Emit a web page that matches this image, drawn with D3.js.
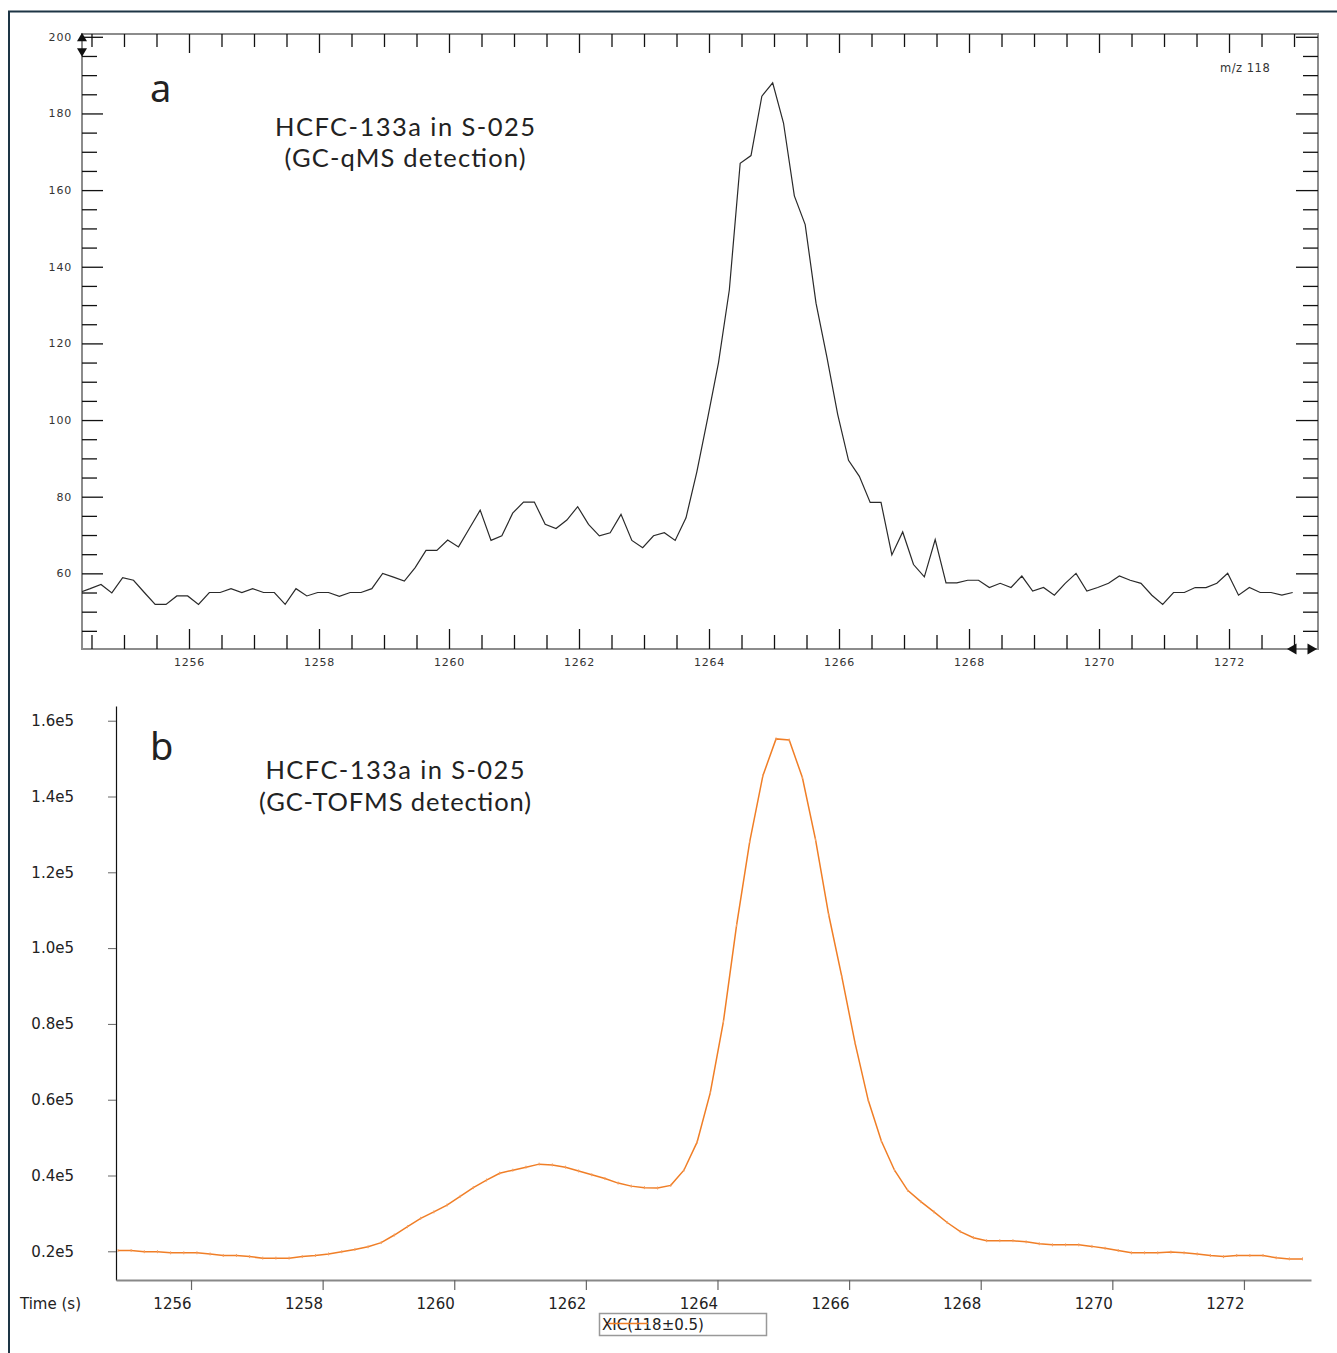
<!DOCTYPE html>
<html lang="en">
<head>
<meta charset="utf-8">
<script src="https://d3js.org/d3.v7.min.js"></script>
<style>
    body { margin: 0; background: #fff; }
    .ax-a text { font-family: "DejaVu Sans", sans-serif; font-size: 11px; letter-spacing: 0.8px; fill: #333; }
    .ax-b text { font-family: "DejaVu Sans", sans-serif; font-size: 15px; fill: #222; }
    .title { font-family: Lato, "Noto Sans", sans-serif; fill: #222; }
    .letter { font-family: "Noto Sans", sans-serif; fill: #222; }
</style>
</head>
<body>
<script>
// panel a : GC-qMS, m/z 118, one scan every 1/6 s
var qmsStart = 1254.313, qmsStep = 1 / 6;
var qmsCounts = [
    55.0, 56.0, 57.1, 54.9, 58.9, 58.2, 55.0, 51.9, 51.9, 54.1,
    54.1, 51.9, 55.0, 55.0, 56.0, 55.0, 56.0, 55.0, 55.0, 51.9,
    56.0, 54.1, 55.0, 55.0, 54.0, 55.0, 55.0, 56.0, 60.0, 59.0,
    58.0, 61.5, 66.0, 66.0, 68.7, 66.9, 71.7, 76.5, 68.6, 69.8,
    75.7, 78.6, 78.6, 72.8, 71.7, 73.9, 77.4, 72.8, 69.8, 70.6,
    75.4, 68.6, 66.7, 69.8, 70.6, 68.6, 74.5, 86.5, 100.5, 115.0,
    134.0, 167.0, 169.0, 184.5, 188.0, 177.5, 158.5, 151.0, 130.5, 116.5,
    101.5, 89.5, 85.3, 78.5, 78.5, 64.8, 70.8, 62.3, 59.1, 68.8,
    57.5, 57.5, 58.2, 58.2, 56.3, 57.4, 56.3, 59.3, 55.4, 56.3,
    54.3, 57.4, 60.0, 55.4, 56.3, 57.4, 59.3, 58.2, 57.4, 54.3,
    51.9, 55.0, 55.0, 56.3, 56.3, 57.4, 60.0, 54.3, 56.3, 55.0,
    55.0, 54.3, 55.0
];

// panel b : GC-TOFMS XIC(118), one point every 0.2 s
var tofStart = 1254.89, tofStep = 0.2;
var tofCounts = [
    20200, 20200, 19900, 19900, 19600, 19600, 19600, 19300, 18900, 18900,
    18600, 18200, 18200, 18200, 18600, 18900, 19300, 19900, 20500, 21200,
    22300, 24300, 26500, 28700, 30400, 32200, 34500, 36800, 38800, 40600,
    41400, 42200, 43000, 42800, 42200, 41200, 40200, 39200, 38000, 37200,
    36800, 36700, 37400, 41400, 48800, 61800, 80600, 106000, 128100, 145500,
    155200, 154900, 145000, 128600, 108800, 92400, 75000, 59900, 49100, 41400,
    36100, 33100, 30400, 27600, 25200, 23600, 22800, 22800, 22800, 22500,
    22000, 21700, 21700, 21700, 21300, 20800, 20200, 19600, 19600, 19600,
    19800, 19600, 19300, 18900, 18600, 18900, 18900, 18900, 18300, 18000,
    18000
];

var timeTicks = [1256, 1258, 1260, 1262, 1264, 1266, 1268, 1270, 1272];
var qmsLabels = [60, 80, 100, 120, 140, 160, 180, 200];
var tofLabels = [20000, 40000, 60000, 80000, 100000, 120000, 140000, 160000];

var qms = qmsCounts.map(function(v, i) { return { t: qmsStart + i * qmsStep, v: v }; });
var tof = tofCounts.map(function(v, i) { return { t: tofStart + i * tofStep, v: v }; });

var fmtTime = d3.format("d");

var svg = d3.select("body").append("svg")
    .attr("width", 1337)
    .attr("height", 1353);

// outer frame of the figure
svg.append("rect")
    .attr("x", 9).attr("y", 11.5)
    .attr("width", 1360).attr("height", 1400)
    .attr("fill", "none")
    .attr("stroke", "#1d3545")
    .attr("stroke-width", 2);

// ---------- panel a ----------
var xa = d3.scaleLinear().domain([1254.354, 1273.369]).range([82, 1318]);
var ya = d3.scaleLinear().domain([40, 200]).range([650, 36.8]);

var minorX = d3.range(1254.5, 1273.01, 0.5).filter(function(d) { return timeTicks.indexOf(d) < 0; });
var minorY = d3.range(45, 200, 5).filter(function(d) { return qmsLabels.indexOf(d) < 0; });

svg.append("clipPath").attr("id", "clipA")
    .append("rect").attr("x", 82).attr("y", 34).attr("width", 1236).attr("height", 615);

svg.append("rect")
    .attr("x", 82).attr("y", 34).attr("width", 1236).attr("height", 615)
    .attr("fill", "none").attr("stroke", "#8c8c8c").attr("stroke-width", 2);

var ga = svg.append("g").attr("class", "ax-a");

function tidy(g) {
    g.select(".domain").remove();
    g.selectAll(".tick line").attr("stroke", "#111").attr("stroke-width", 1.3);
}

ga.append("g").attr("transform", "translate(82,0)")
    .call(d3.axisLeft(ya).tickValues(minorY).tickSize(-15).tickFormat("")).call(tidy);
ga.append("g").attr("transform", "translate(82,0)")
    .call(d3.axisLeft(ya).tickValues(qmsLabels).tickSize(-21).tickPadding(10)).call(tidy);
ga.append("g").attr("transform", "translate(1318,0)")
    .call(d3.axisRight(ya).tickValues(minorY).tickSize(-15).tickFormat("")).call(tidy);
ga.append("g").attr("transform", "translate(1318,0)")
    .call(d3.axisRight(ya).tickValues(qmsLabels).tickSize(-22).tickFormat("")).call(tidy);
ga.append("g").attr("transform", "translate(0,649)")
    .call(d3.axisBottom(xa).tickValues(minorX).tickSize(-14).tickFormat("")).call(tidy);
ga.append("g").attr("transform", "translate(0,649)")
    .call(d3.axisBottom(xa).tickValues(timeTicks).tickSize(-20).tickPadding(9).tickFormat(fmtTime)).call(tidy);
ga.append("g").attr("transform", "translate(0,34)")
    .call(d3.axisTop(xa).tickValues(minorX).tickSize(-13).tickFormat("")).call(tidy);
ga.append("g").attr("transform", "translate(0,34)")
    .call(d3.axisTop(xa).tickValues(timeTicks).tickSize(-19).tickFormat("")).call(tidy);

svg.append("path")
    .datum(qms)
    .attr("clip-path", "url(#clipA)")
    .attr("fill", "none")
    .attr("stroke", "#2a2a2a")
    .attr("stroke-width", 1.2)
    .attr("d", d3.line().x(function(d) { return xa(d.t); }).y(function(d) { return ya(d.v); }));

// zoom arrows of the viewer
var ax0 = xa.range()[0], ay0 = ya(200);
svg.append("path").attr("fill", "#111")
    .attr("d", "M" + ax0 + "," + (ay0 - 4) + "l5,8.5h-10z");
svg.append("path").attr("fill", "#111")
    .attr("d", "M" + ax0 + "," + (ay0 + 20) + "l5,-8.5h-10z");
var bx1 = xa.range()[1], by1 = ya.range()[0] - 1;
svg.append("path").attr("fill", "#111")
    .attr("d", "M" + (bx1 - 31) + "," + by1 + "l9.5,-5.5v11z");
svg.append("path").attr("fill", "#111")
    .attr("d", "M" + (bx1 - 1) + "," + by1 + "l-9.5,-5.5v11z");

svg.append("text")
    .attr("x", 1220).attr("y", 72)
    .style("font-family", "DejaVu Sans").style("font-size", "11.5px")
    .style("letter-spacing", "0.5px").style("fill", "#333")
    .text("m/z 118");

function title(x, y, len, txt) {
    return svg.append("text").attr("class", "title")
        .attr("x", x).attr("y", y)
        .attr("text-anchor", "middle")
        .style("font-size", "25.5px")
        .attr("textLength", len).attr("lengthAdjust", "spacing")
        .text(txt);
}

svg.append("text").attr("class", "letter")
    .attr("x", 150).attr("y", 102).style("font-size", "38px").text("a");
title(405, 136, 260, "HCFC-133a in S-025");
title(405, 167, 241, "(GC-qMS detection)");

// ---------- panel b ----------
var xb = d3.scaleLinear().domain([1254.860, 1273.019]).range([116, 1311]);
var yb = d3.scaleLinear().domain([12430, 163880]).range([1280, 706]);

var gb = svg.append("g").attr("class", "ax-b");

gb.append("g").attr("transform", "translate(116,0)")
    .call(d3.axisLeft(yb).tickValues(tofLabels).tickSize(8).tickSizeOuter(0).tickPadding(34)
        .tickFormat(function(d) { return (d / 1e5).toFixed(1) + "e5"; }))
    .call(function(g) {
        g.select(".domain").attr("stroke", "#111").attr("stroke-width", 1.2);
        g.selectAll(".tick line").attr("stroke", "#666");
    });

gb.append("g").attr("transform", "translate(0,1280)")
    .call(d3.axisBottom(xb).tickValues(timeTicks).tickSize(10).tickSizeOuter(0).tickPadding(8).tickFormat(fmtTime))
    .call(function(g) {
        g.select(".domain").attr("stroke", "#888").attr("stroke-width", 2);
        g.selectAll(".tick line").attr("stroke", "#666").attr("stroke-width", 1.2);
        g.selectAll(".tick text").attr("text-anchor", "end");
    });

gb.append("text").attr("x", 20).attr("y", 1309).text("Time (s)");

svg.append("path")
    .datum(tof)
    .attr("fill", "none")
    .attr("stroke", "#f07e26")
    .attr("stroke-width", 1.5)
    .attr("d", d3.line().x(function(d) { return xb(d.t); }).y(function(d) { return yb(d.v); }));

svg.append("g").selectAll("line")
    .data(tof)
    .join("line")
    .attr("x1", function(d) { return xb(d.t); })
    .attr("x2", function(d) { return xb(d.t); })
    .attr("y1", function(d) { return yb(d.v) - 1.5; })
    .attr("y2", function(d) { return yb(d.v) + 1.5; })
    .attr("stroke", "#f5a064")
    .attr("stroke-width", 1);

// legend box
svg.append("rect")
    .attr("x", 599.5).attr("y", 1313.5).attr("width", 167).attr("height", 22)
    .attr("fill", "#fff").attr("stroke", "#999").attr("stroke-width", 1.5);
svg.append("text")
    .attr("x", 602).attr("y", 1330)
    .style("font-family", "DejaVu Sans").style("font-size", "15px").style("fill", "#222")
    .text("XIC(118\u00b10.5)");
svg.append("line")
    .attr("x1", 608).attr("x2", 648).attr("y1", 1323.5).attr("y2", 1323.5)
    .attr("stroke", "#f07e26").attr("stroke-width", 1.5);

svg.append("text").attr("class", "letter")
    .attr("x", 150).attr("y", 760).style("font-size", "38px").text("b");
title(395, 779, 259, "HCFC-133a in S-025");
title(395, 811, 272, "(GC-TOFMS detection)");
</script>
</body>
</html>
